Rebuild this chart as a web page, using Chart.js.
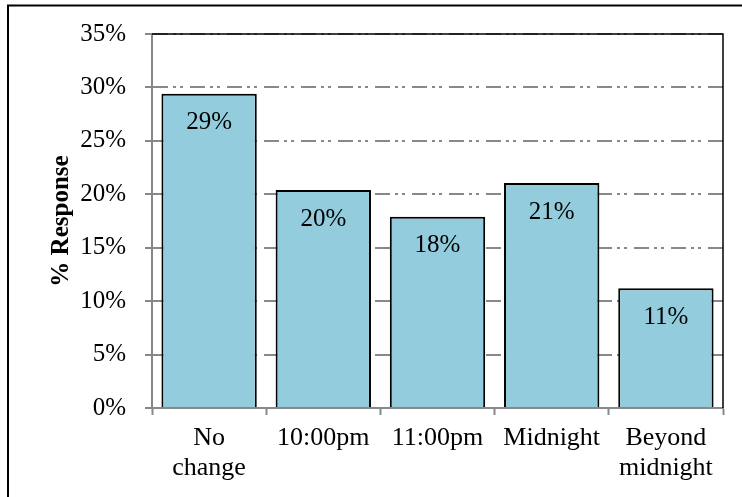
<!DOCTYPE html>
<html>
<head>
<meta charset="utf-8">
<script src="https://cdn.jsdelivr.net/npm/chart.js@4/dist/chart.umd.min.js"></script>
<style>
  html, body { margin: 0; padding: 0; background: #fff; }
  #wrap { width: 742px; height: 497px; position: relative; }
</style>
</head>
<body>
<div id="wrap"><canvas id="responseChart" width="742" height="497"></canvas></div>
<script>
const categories = [["No", "change"], "10:00pm", "11:00pm", "Midnight", ["Beyond", "midnight"]];
const responses = [29.4, 20.4, 17.9, 21.05, 11.2];
const yTicks = [0, 5, 10, 15, 20, 25, 30, 35];

const serif = "'Liberation Serif', 'Times New Roman', serif";
const gray = "#888888";

// value labels sitting just under the top of each bar
const barLabels = {
    id: "barLabels",
    afterDatasetsDraw(chart) {
        const ctx = chart.ctx;
        const meta = chart.getDatasetMeta(0);
        ctx.save();
        ctx.font = "25px " + serif;
        ctx.fillStyle = "#000";
        ctx.textAlign = "center";
        ctx.textBaseline = "middle";
        meta.data.forEach((bar, i) => {
            ctx.fillText(Math.round(responses[i]) + "%", bar.x, bar.y + 29);
        });
        ctx.restore();
    }
};

// black top/right edge of the plot and the outer frame
const frame = {
    id: "frame",
    afterDraw(chart) {
        const ctx = chart.ctx;
        const a = chart.chartArea;
        ctx.save();
        ctx.strokeStyle = "#000";
        ctx.lineWidth = 1.5;
        ctx.beginPath();
        ctx.moveTo(a.left, a.top);
        ctx.lineTo(a.right, a.top);
        ctx.lineTo(a.right, a.bottom);
        ctx.stroke();
        ctx.lineWidth = 2;
        ctx.beginPath();
        ctx.moveTo(8, 600);
        ctx.lineTo(8, 5.5);
        ctx.lineTo(800, 5.5);
        ctx.stroke();
        ctx.restore();
    }
};

new Chart("responseChart", {
    type: "bar",
    data: {
        labels: categories,
        datasets: [{
            data: responses,
            backgroundColor: "#93CDDD",
            borderColor: "#000",
            borderWidth: 2,
            barPercentage: 0.835,
            categoryPercentage: 1
        }]
    },
    options: {
        responsive: false,
        animation: false,
        layout: { padding: { left: 0, right: 19, top: 34, bottom: 0 } },
        plugins: {
            legend: { display: false },
            tooltip: { enabled: false }
        },
        scales: {
            x: {
                afterFit(scale) { scale.height = 89; },
                grid: {
                    offset: true,
                    drawOnChartArea: false,
                    tickLength: 7,
                    tickColor: gray,
                    tickWidth: 2
                },
                border: { color: gray, width: 2 },
                ticks: {
                    color: "#000",
                    padding: 9,
                    maxRotation: 0,
                    font: { family: serif, size: 26, lineHeight: 1.12 }
                }
            },
            y: {
                min: 0,
                max: 35,
                afterFit(scale) { scale.width = 152; },
                afterBuildTicks(scale) {
                    scale.ticks = yTicks.map(v => ({ value: v }));
                },
                grid: {
                    color: gray,
                    lineWidth: 2,
                    tickLength: 7,
                    tickColor: gray,
                    tickWidth: 2,
                    tickBorderDash: []
                },
                border: { color: gray, width: 2, dash: [15, 5, 3, 4, 3, 7] },
                ticks: {
                    color: "#000",
                    padding: 19,
                    font: { family: serif, size: 25 },
                    callback: v => v + "%"
                },
                title: {
                    display: true,
                    text: "% Response",
                    color: "#000",
                    padding: { top: 47, bottom: 0 },
                    font: { family: serif, size: 25, weight: "bold", lineHeight: 1.2 }
                }
            }
        }
    },
    plugins: [barLabels, frame]
});
</script>
</body>
</html>
